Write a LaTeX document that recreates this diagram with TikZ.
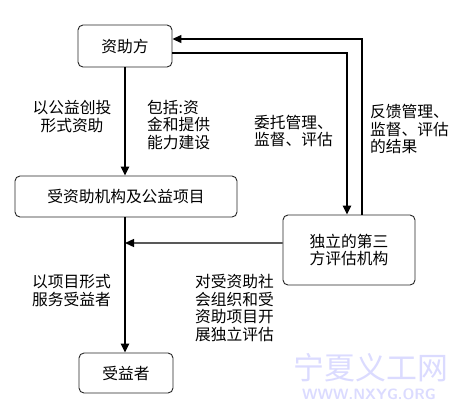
\documentclass[tikz,border=0pt]{standalone}
\usepackage{fontspec}
\newfontfamily\cjk{Noto Sans CJK SC}
\usetikzlibrary{arrows.meta}
\begin{document}
\begin{tikzpicture}[x=1bp,y=-1bp,
  every node/.style={font=\cjk\fontsize{15.8}{18}\selectfont, text=black},
  box/.style={draw=black!85, line width=0.9bp, rounded corners=5bp, inner sep=0pt, align=center},
  lbl/.style={inner sep=0pt},
  thickarrow/.style={line width=2.4bp, -{Triangle[length=9bp,width=8bp]}},
  thinarrow/.style={line width=1.3bp, -{Triangle[length=9bp,width=8bp]}},
  wm/.style={inner sep=0pt, text=blue!14}
]
\useasboundingbox (0,0) rectangle (475,416);
\fill[white] (0,0) rectangle (475,416);

\node[box, minimum width=94bp, minimum height=42bp] (zf) at (125,46) {资助方};
\node[box, minimum width=222bp, minimum height=41bp] (sz) at (126,196.5) {受资助机构及公益项目};
\node[box, minimum width=132bp, minimum height=70bp] (ds) at (349,250) {独立的第三\\方评估机构};
\node[box, minimum width=94bp, minimum height=40bp] (sy) at (126,373) {受益者};

\coordinate (j) at (125,243);

\draw[thickarrow] (zf.south) -- (zf.south |- sz.north);
\draw[thickarrow] (zf.south |- sz.south) -- (zf.south |- sy.north);
\draw[thickarrow] ([yshift=-7bp]zf.east) -| ([xshift=-2bp]ds.north);
\draw[thinarrow] ([xshift=13bp]ds.north) |- ([yshift=7bp]zf.east);
\draw[thinarrow] ([yshift=7bp]ds.west) -- (j);

\node[lbl, align=center] (l1) at (72,117) {以公益创投\\形式资助};
\node[lbl, align=left, anchor=west] (l2) at (147,125) {包括:资\\金和提供\\能力建设};
\node[lbl, align=left, anchor=west] (l3) at (254,131) {委托管理、\\监督、评估};
\node[lbl, align=left, anchor=west] (l4) at (370,129) {反馈管理、\\监督、评估\\的结果};
\node[lbl, align=left, anchor=west] (l5) at (32,291) {以项目形式\\服务受益者};
\node[lbl, align=left, anchor=west] (l6) at (195,308) {对受资助社\\会组织和受\\资助项目开\\展独立评估};

\node[wm, font=\cjk\fontsize{31}{31}\selectfont] (w1) at (371,368) {宁夏义工网};
\node[wm, font=\sffamily\bfseries\fontsize{15}{15}\selectfont] (w2) at (369,394) {WWW.NXYG.ORG};
\end{tikzpicture}
\end{document}
